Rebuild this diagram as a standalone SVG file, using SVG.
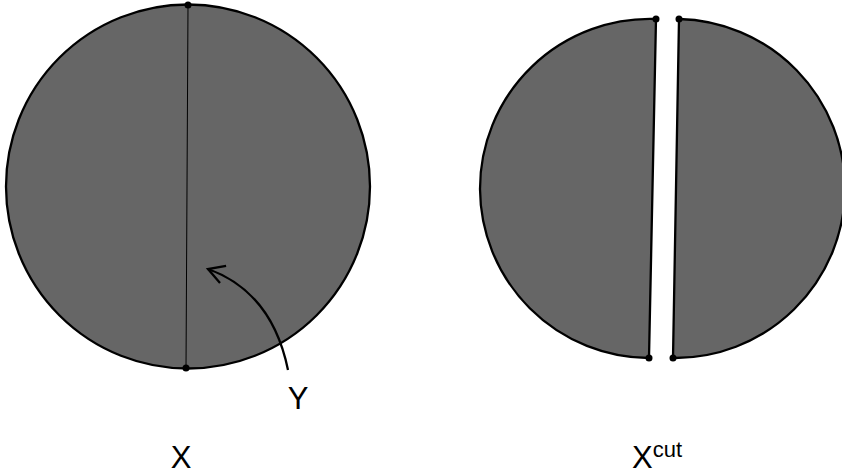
<svg xmlns="http://www.w3.org/2000/svg" width="842" height="475" viewBox="0 0 842 475">
<style>
.shape{fill:#666666;stroke:#000;stroke-width:2.3;stroke-linejoin:round}
.dot{fill:#000}
.lbl{font-family:"Liberation Sans",Arial,sans-serif;font-size:31px;fill:#000}
</style>
<defs>
<marker id="ah" markerWidth="26" markerHeight="26" refX="19" refY="11" orient="auto" markerUnits="userSpaceOnUse">
<path d="M3,2 L19,11 L3,20" fill="none" stroke="#000" stroke-width="2.3"/>
</marker>
</defs>
<g id="diskX">
<circle class="shape" cx="188" cy="186.5" r="182"/>
<line x1="188" y1="5" x2="186" y2="368" stroke="#000" stroke-width="1"/>
<circle class="dot" cx="188" cy="5" r="3.5"/>
<circle class="dot" cx="186" cy="368" r="3.5"/>
</g>
<g id="cutLeft">
<path class="shape" d="M656,19 L649,358 A170,170 0 0,1 480,189 A170,170 0 0,1 656,19 Z"/>
<circle class="dot" cx="656" cy="19" r="3.5"/>
<circle class="dot" cx="649" cy="358" r="3.5"/>
</g>
<g id="cutRight">
<path class="shape" d="M679,19 L673,358 A170,170 0 0,0 845,189 A170,170 0 0,0 679,19 Z"/>
<circle class="dot" cx="679" cy="19" r="3.5"/>
<circle class="dot" cx="673" cy="358" r="3.5"/>
</g>
<g id="connectors">
<path d="M288,370 Q272,292 208,269" fill="none" stroke="#000" stroke-width="2.3" marker-end="url(#ah)"/>
</g>
<g id="labels">
<text class="lbl" x="298" y="409" text-anchor="middle">Y</text>
<text class="lbl" x="181" y="468" text-anchor="middle">X</text>
<text class="lbl" x="632" y="468">X<tspan font-size="22" dy="-11">cut</tspan></text>
</g>
</svg>
